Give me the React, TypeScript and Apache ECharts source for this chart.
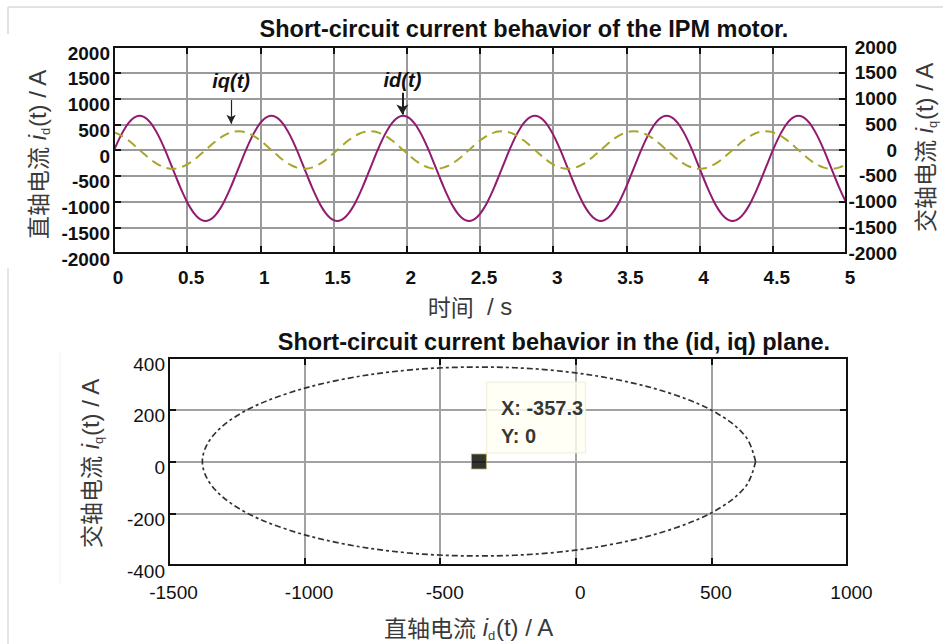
import React, { useEffect, useRef } from 'react';
import * as echarts from 'echarts';

// ---------- data ----------
const timeStep = 0.025; // s, sampling step of the time plot (t = 0 ... 5 s)

// direct-axis current id(t) / A, one sample every 0.025 s
const idValues = [
  -8, 153, 299, 424, 526, 602, 648, 663, 648, 602, 526, 424, 299, 153, -8, -180, -357, -534,
  -706, -867, -1013, -1138, -1240, -1316, -1362, -1377, -1362, -1316, -1240, -1138, -1013, -867, -706, -534, -357, -180,
  -8, 153, 299, 424, 526, 602, 648, 663, 648, 602, 526, 424, 299, 153, -8, -180, -357, -534,
  -706, -867, -1013, -1138, -1240, -1316, -1362, -1377, -1362, -1316, -1240, -1138, -1013, -867, -706, -534, -357, -180,
  -8, 153, 299, 424, 526, 602, 648, 663, 648, 602, 526, 424, 299, 153, -8, -180, -357, -534,
  -706, -867, -1013, -1138, -1240, -1316, -1362, -1377, -1362, -1316, -1240, -1138, -1013, -867, -706, -534, -357, -180,
  -8, 153, 299, 424, 526, 602, 648, 663, 648, 602, 526, 424, 299, 153, -8, -180, -357, -534,
  -706, -867, -1013, -1138, -1240, -1316, -1362, -1377, -1362, -1316, -1240, -1138, -1013, -867, -706, -534, -357, -180,
  -8, 153, 299, 424, 526, 602, 648, 663, 648, 602, 526, 424, 299, 153, -8, -180, -357, -534,
  -706, -867, -1013, -1138, -1240, -1316, -1362, -1377, -1362, -1316, -1240, -1138, -1013, -867, -706, -534, -357, -180,
  -8, 153, 299, 424, 526, 602, 648, 663, 648, 602, 526, 424, 299, 153, -8, -180, -357, -534,
  -706, -867, -1013,
];

// quadrature-axis current iq(t) / A, one sample every 0.025 s
const iqValues = [
  343, 316, 280, 235, 183, 125, 63, 0, -63, -125, -183, -235, -280, -316, -343, -359, -365, -359,
  -343, -316, -280, -235, -183, -125, -63, 0, 63, 125, 183, 235, 280, 316, 343, 359, 365, 359,
  343, 316, 280, 235, 183, 125, 63, 0, -63, -125, -183, -235, -280, -316, -343, -359, -365, -359,
  -343, -316, -280, -235, -183, -125, -63, 0, 63, 125, 183, 235, 280, 316, 343, 359, 365, 359,
  343, 316, 280, 235, 183, 125, 63, 0, -63, -125, -183, -235, -280, -316, -343, -359, -365, -359,
  -343, -316, -280, -235, -183, -125, -63, 0, 63, 125, 183, 235, 280, 316, 343, 359, 365, 359,
  343, 316, 280, 235, 183, 125, 63, 0, -63, -125, -183, -235, -280, -316, -343, -359, -365, -359,
  -343, -316, -280, -235, -183, -125, -63, 0, 63, 125, 183, 235, 280, 316, 343, 359, 365, 359,
  343, 316, 280, 235, 183, 125, 63, 0, -63, -125, -183, -235, -280, -316, -343, -359, -365, -359,
  -343, -316, -280, -235, -183, -125, -63, 0, 63, 125, 183, 235, 280, 316, 343, 359, 365, 359,
  343, 316, 280, 235, 183, 125, 63, 0, -63, -125, -183, -235, -280, -316, -343, -359, -365, -359,
  -343, -316, -280,
];

// trajectory in the (id, iq) plane
const planeId = [
  663, 628, 526, 364, 153, -93, -357, -621, -867, -1078, -1240, -1342, -1377,
  -1342, -1240, -1078, -867, -621, -357, -93, 153, 364, 526, 628, 663,
];
const planeIq = [
  0, 94, 183, 258, 316, 353, 365, 353, 316, 258, 183, 94, 0,
  -94, -183, -258, -316, -353, -365, -353, -316, -258, -183, -94, 0,
];

// data tip in the lower plot
const tipPoint = [-357.3, 0];

// annotations (arrow start/end) in the upper plot
const iqArrow = { t: 0.8, from: 970, to: 510, text: 'iq(t)' };
const idArrow = { t: 1.97, from: 1110, to: 690, text: 'id(t)' };

const topTitle = 'Short-circuit current behavior of the IPM motor.';
const bottomTitle = 'Short-circuit current behavior in the (id, iq) plane.';

// ---------- styling ----------
const FONT = '"Liberation Sans", Arial, Helvetica, sans-serif';
const CJK = '"Noto Sans CJK SC", "Noto Sans", sans-serif';
const NAME_COLOR = '#3a3a3a';

const nameRich = {
  cn: { fontFamily: CJK, fontSize: 23, fill: NAME_COLOR, lineHeight: 28 },
  it: { fontFamily: FONT, fontSize: 24, fontStyle: 'italic', fill: NAME_COLOR, lineHeight: 28 },
  sub: { fontFamily: FONT, fontSize: 13, fill: NAME_COLOR, lineHeight: 15, padding: [17, 0, 0, 0] },
  n: { fontFamily: FONT, fontSize: 24, fill: NAME_COLOR, lineHeight: 28 },
};

const nameText = (cn: string, sub: string) => `{cn|${cn}}{n| }{it|i}{sub|${sub}}{n|(t) / A}`;

const tickStyle = { inside: true, length: 7, lineStyle: { color: '#111', width: 2 } };
const noLine = { show: false, onZero: false };
const plain = (v: number) => String(v);
// y tick labels sit a few pixels below their ticks in the reference
const shifted = (v: number) => `{s|${v}}`;

export default function App() {
  const ref = useRef<HTMLDivElement>(null);

  useEffect(() => {
    if (!ref.current) return;
    const chart = echarts.init(ref.current, undefined, { renderer: 'svg' });

    const idSeries = idValues.map((v, i) => [i * timeStep, v]);
    const iqSeries = iqValues.map((v, i) => [i * timeStep, v]);
    const planeSeries = planeId.map((v, i) => [v, planeIq[i]]);

    const arrowMarkLine = (a: typeof iqArrow, width: number, distance: number, size: number[]) => ({
      silent: true,
      symbol: ['none', 'arrow'],
      symbolSize: size,
      emphasis: { disabled: true },
      lineStyle: { color: '#222', width, type: 'solid' },
      label: {
        show: true,
        position: 'start',
        formatter: a.text,
        fontFamily: FONT,
        fontSize: 20,
        fontStyle: 'italic',
        fontWeight: 'bold',
        color: '#111',
        distance,
      },
      data: [[{ coord: [a.t, a.from] }, { coord: [a.t, a.to] }]],
    });

    const option: any = {
      animation: false,
      backgroundColor: '#ffffff',
      textStyle: { fontFamily: FONT },
      grid: [
        { left: 114, top: 47, width: 732, height: 206, show: true, borderColor: '#111', borderWidth: 2, backgroundColor: 'transparent', z: 10 },
        { left: 169, top: 358, width: 678, height: 207, show: true, borderColor: '#111', borderWidth: 2, backgroundColor: 'transparent', z: 10 },
      ],
      xAxis: [
        {
          gridIndex: 0, type: 'value', min: 0, max: 5, interval: 0.5, position: 'bottom',
          axisLine: noLine, axisTick: tickStyle,
          axisLabel: { formatter: plain, fontSize: 19, fontWeight: 'bold', color: '#111', margin: 15, padding: [0, 0, 0, 8] },
          splitLine: { show: true, lineStyle: { color: '#9a9a9a', width: 2 } },
        },
        {
          gridIndex: 0, type: 'value', min: 0, max: 5, interval: 0.5, position: 'top',
          axisLine: noLine, axisTick: tickStyle, axisLabel: { show: false }, splitLine: { show: false },
        },
        {
          gridIndex: 1, type: 'value', min: -1500, max: 1000, interval: 500, position: 'bottom',
          axisLine: noLine, axisTick: tickStyle,
          axisLabel: { formatter: plain, fontSize: 19, color: '#111', margin: 18, padding: [0, 0, 0, 9] },
          splitLine: { show: true, lineStyle: { color: '#a2a2a2', width: 2 } },
        },
        {
          gridIndex: 1, type: 'value', min: -1500, max: 1000, interval: 500, position: 'top',
          axisLine: noLine, axisTick: tickStyle, axisLabel: { show: false }, splitLine: { show: false },
        },
      ],
      yAxis: [
        {
          gridIndex: 0, type: 'value', min: -2000, max: 2000, interval: 500, position: 'left',
          axisLine: noLine, axisTick: tickStyle,
          axisLabel: {
            formatter: shifted, margin: 4,
            rich: { s: { fontFamily: FONT, fontSize: 19, fontWeight: 'bold', color: '#111', padding: [12, 0, 0, 0] } },
          },
          splitLine: { show: true, lineStyle: { color: '#9a9a9a', width: 2 } },
        },
        {
          gridIndex: 0, type: 'value', min: -2000, max: 2000, interval: 500, position: 'right',
          axisLine: noLine, axisTick: tickStyle,
          axisLabel: { formatter: plain, fontSize: 19, fontWeight: 'bold', color: '#111', margin: 51, align: 'right' },
          splitLine: { show: false },
        },
        {
          gridIndex: 1, type: 'value', min: -400, max: 400, interval: 200, position: 'left',
          axisLine: noLine, axisTick: tickStyle,
          axisLabel: {
            formatter: shifted, margin: 4,
            rich: { s: { fontFamily: FONT, fontSize: 19, color: '#111', padding: [12, 0, 0, 0] } },
          },
          splitLine: { show: true, lineStyle: { color: '#a2a2a2', width: 2 } },
        },
        {
          gridIndex: 1, type: 'value', min: -400, max: 400, interval: 200, position: 'right',
          axisLine: noLine, axisTick: tickStyle, axisLabel: { show: false }, splitLine: { show: false },
        },
      ],
      series: [
        {
          name: 'id(t)', type: 'line', xAxisIndex: 0, yAxisIndex: 0,
          data: idSeries, smooth: 0.3, showSymbol: false, silent: true,
          lineStyle: { color: '#921a70', width: 2 },
          markLine: arrowMarkLine(idArrow, 2, 3, [9, 10]),
        },
        {
          name: 'iq(t)', type: 'line', xAxisIndex: 0, yAxisIndex: 1,
          data: iqSeries, smooth: 0.3, showSymbol: false, silent: true,
          lineStyle: { color: '#a7a52a', width: 2, type: [10, 6] },
          markLine: arrowMarkLine(iqArrow, 1.2, 9, [7, 9]),
        },
        {
          name: 'plane', type: 'line', xAxisIndex: 2, yAxisIndex: 2,
          data: planeSeries, smooth: 0.35, showSymbol: false, silent: true,
          lineStyle: { color: '#333333', width: 1.7, type: [6, 3, 3, 3] },
        },
        {
          name: 'tip', type: 'scatter', xAxisIndex: 2, yAxisIndex: 2,
          data: [tipPoint], symbol: 'rect', symbolSize: 15, silent: true, z: 5,
          itemStyle: { color: '#000', borderColor: '#b8b060', borderWidth: 1 },
          label: {
            show: true,
            position: [16, -71],
            formatter: (p: any) => `X: ${p.value[0]}\nY: ${p.value[1]}`,
            fontFamily: FONT, fontSize: 20, fontWeight: 'bold', color: '#000',
            lineHeight: 28,
            backgroundColor: '#fffff2', borderColor: '#ecebd6', borderWidth: 1,
            padding: [11, 2, 3, 14],
          },
        },
      ],
      graphic: [
        { type: 'line', shape: { x1: 8, y1: 7, x2: 943, y2: 7 }, style: { stroke: '#e2e2e2', lineWidth: 2 }, silent: true },
        { type: 'line', shape: { x1: 8, y1: 7, x2: 8, y2: 34 }, style: { stroke: '#e2e2e2', lineWidth: 2 }, silent: true },
        { type: 'line', shape: { x1: 8, y1: 268, x2: 8, y2: 644 }, style: { stroke: '#e6e6e6', lineWidth: 2 }, silent: true },
        { type: 'line', shape: { x1: 60, y1: 352, x2: 60, y2: 585 }, style: { stroke: '#f2f2f2', lineWidth: 1 }, silent: true },
        {
          type: 'text', x: 524, y: 29, silent: true,
          style: { text: topTitle, fontFamily: FONT, fontSize: 23.5, fontWeight: 'bold', fill: '#111', align: 'center', verticalAlign: 'middle' },
        },
        {
          type: 'text', x: 554, y: 342, silent: true,
          style: { text: bottomTitle, fontFamily: FONT, fontSize: 23.5, fontWeight: 'bold', fill: '#111', align: 'center', verticalAlign: 'middle' },
        },
        {
          type: 'text', x: 37, y: 154, rotation: Math.PI / 2, silent: true,
          style: { text: nameText('直轴电流', 'd'), rich: nameRich, align: 'center', verticalAlign: 'middle' },
        },
        {
          type: 'text', x: 924, y: 147, rotation: Math.PI / 2, silent: true,
          style: { text: nameText('交轴电流', 'q'), rich: nameRich, align: 'center', verticalAlign: 'middle' },
        },
        {
          type: 'text', x: 470, y: 306, silent: true,
          style: { text: '{cn|时间}{n|  / s}', rich: nameRich, align: 'center', verticalAlign: 'middle' },
        },
        {
          type: 'text', x: 469, y: 627, silent: true,
          style: { text: nameText('直轴电流', 'd'), rich: nameRich, align: 'center', verticalAlign: 'middle' },
        },
        {
          type: 'text', x: 90, y: 463, rotation: Math.PI / 2, silent: true,
          style: { text: nameText('交轴电流', 'q'), rich: nameRich, align: 'center', verticalAlign: 'middle' },
        },
      ],
    };

    chart.setOption(option);
    return () => chart.dispose();
  }, []);

  return <div ref={ref} style={{ position: 'fixed', left: 0, top: 0, width: 943, height: 644 }} />;
}
